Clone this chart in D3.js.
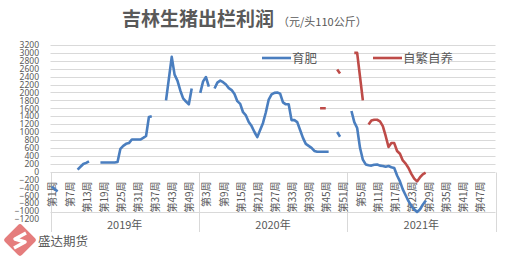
<!DOCTYPE html>
<html>
<head>
<meta charset="utf-8">
<script src="https://cdn.jsdelivr.net/npm/d3@7"></script>
<style>
  body { margin: 0; background: #fff; }
  svg text { font-family: "Noto Sans CJK SC", "Noto Sans", sans-serif; fill: #595959; }
</style>
</head>
<body>
<div class="chart"></div>
<script>
// data ------------------------------------------------------------
const years = ['2019年', '2020年', '2021年'];
const weeksPerYear = [52, 52, 52];
const yTicks = [-1200, -1000, -800, -600, -400, -200, 0, 200, 400, 600, 800, 1000, 1200,
  1400, 1600, 1800, 2000, 2200, 2400, 2600, 2800, 3000, 3200];
const seriesNames = ['育肥', '自繁自养'];

// 育肥 (per year, 52 weeks each, null = no data)
const fatten2019 = [-380, -450, -500, null, null, null, null, null, null, 50,
  120, 190, 220, 260, null, null, null, 230, 230, 230,
  230, 230, 230, 240, 575, 650, 700, 720, 810, 810,
  810, 810, 850, 900, 1380, 1400, null, null, null, null,
  1800, 2350, 2900, 2450, 2300, 2050, 1850, 1770, 1700, 2100,
  null, null];
const fatten2020 = [1990, 2280, 2390, 2150, null, 2100, 2250, 2300, 2260, 2200,
  2110, 2060, 1960, 1780, 1710, 1500, 1420, 1250, 1150, 1000,
  870, 1050, 1230, 1500, 1820, 1950, 1990, 2000, 1970, 1750,
  1700, 1700, 1300, 1300, 1250, 1050, 850, 700, 650, 600,
  520, 500, 500, 500, 500, 500, null, null, 1000, 880,
  null, null];
const fatten2021 = [null, 1530, 1250, 1100, 600, 300, 180, 160, 150, 170,
  180, 150, 140, 120, 140, 110, 90, -100, -250, -450,
  -600, -750, -870, -960, -1020, -960, -840, -740, null, null,
  null, null, null, null, null, null, null, null, null, null,
  null, null, null, null, null, null, null, null, null, null,
  null, null];

// 自繁自养
const selfBreed2019 = new Array(52).fill(null);
const selfBreed2020 = [null, null, null, null, null, null, null, null, null, null,
  null, null, null, null, null, null, null, null, null, null,
  null, null, null, null, null, null, null, null, null, null,
  null, null, null, null, null, null, null, null, null, null,
  null, null, 1600, 1600, 1600, null, null, null, 2580, 2480,
  null, null];
const selfBreed2021 = [null, null, 3000, 3000, 2400, 1800, null, 1190, 1290, 1310,
  1310, 1270, 1150, 900, 620, 720, 720, 520, 450, 280,
  200, 90, -60, -180, -250, -150, -70, -30, null, null,
  null, null, null, null, null, null, null, null, null, null,
  null, null, null, null, null, null, null, null, null, null,
  null, null];

const fatten = fatten2019.concat(fatten2020, fatten2021);
const selfBreed = selfBreed2019.concat(selfBreed2020, selfBreed2021);

// categories: one per week
const categories = [];
years.forEach((yr, yi) => {
  for (let w = 1; w <= weeksPerYear[yi]; w++) categories.push({ year: yi, week: w });
});

// chart -----------------------------------------------------------
const W = 513, H = 257;
const left = 50.5, right = 495.5;

const svg = d3.select('.chart').append('svg')
  .attr('width', W)
  .attr('height', H);

const x = d3.scaleBand()
  .domain(d3.range(categories.length))
  .range([left, right])
  .paddingInner(0);
const cx = i => x(i) + x.bandwidth() / 2;

const y = d3.scaleLinear()
  .domain([-1200, 3200])
  .range([219, 45]);

// grid lines (only positive part visible in original)
svg.selectAll('.grid-line')
  .data(yTicks.filter(v => v >= 0))
  .enter()
  .append('line')
  .attr('x1', left)
  .attr('x2', right)
  .attr('y1', d => Math.round(y(d)) + 0.5)
  .attr('y2', d => Math.round(y(d)) + 0.5)
  .attr('stroke', '#d9d9d9')
  .attr('stroke-width', 1);

// y axis - labels are packed tight like the original
svg.append('g')
  .attr('transform', 'translate(42,0)')
  .call(d3.axisLeft(y).tickValues(yTicks).tickSize(0).tickPadding(3).tickFormat(d3.format('d')))
  .call(g => g.select('.domain').remove())
  .selectAll('text')
  .style('font-family', '"Noto Sans", sans-serif')
  .style('font-size', '8.5px')
  .attr('fill', '#595959');

// category table lines
const y0 = Math.round(y(0)) + 0.5;
const rowSep = 212.5, tableBottom = 232;
svg.append('line')
  .attr('x1', left).attr('x2', right)
  .attr('y1', rowSep).attr('y2', rowSep)
  .attr('stroke', '#d9d9d9');
let start = 0;
const yearBounds = [left];
weeksPerYear.forEach(n => { start += n; yearBounds.push(start < categories.length ? x(start) : right); });
svg.selectAll('.year-sep')
  .data(yearBounds)
  .enter()
  .append('line')
  .attr('x1', d => Math.round(d) + 0.5)
  .attr('x2', d => Math.round(d) + 0.5)
  .attr('y1', y0)
  .attr('y2', tableBottom)
  .attr('stroke', '#d9d9d9');

// week labels, every 6th week
const tickIdx = d3.range(0, categories.length, 6);
svg.append('g')
  .attr('transform', `translate(0,${y0})`)
  .call(d3.axisBottom(x)
    .tickValues(tickIdx)
    .tickSize(0)
    .tickFormat(i => `第${categories[i].week}周`))
  .call(g => g.select('.domain').remove())
  .selectAll('text')
  .attr('transform', 'rotate(-90)')
  .attr('x', -9)
  .attr('y', 1)
  .attr('dy', '0.35em')
  .attr('text-anchor', 'end')
  .style('font-size', '10px')
  .attr('fill', '#595959');

// year labels
let acc = 0;
years.forEach((yr, yi) => {
  const a = x(acc);
  acc += weeksPerYear[yi];
  const b = acc < categories.length ? x(acc) : right;
  svg.append('text')
    .attr('x', (a + b) / 2)
    .attr('y', 229)
    .attr('text-anchor', 'middle')
    .style('font-size', '11px')
    .text(yr);
});

// lines
const line = d3.line()
  .defined(d => d.v != null)
  .x(d => cx(d.i))
  .y(d => y(d.v));
const colors = ['#4a7ebf', '#be4b48'];
[fatten, selfBreed].forEach((s, k) => {
  svg.append('path')
    .datum(s.map((v, i) => ({ i, v })))
    .attr('fill', 'none')
    .attr('stroke', colors[k])
    .attr('stroke-width', 2.6)
    .attr('stroke-linejoin', 'round')
    .attr('d', line);
});

// legend
const legendX = [262, 373];
seriesNames.forEach((name, k) => {
  svg.append('line')
    .attr('x1', legendX[k]).attr('x2', legendX[k] + 29)
    .attr('y1', 58).attr('y2', 58)
    .attr('stroke', colors[k])
    .attr('stroke-width', 2.6);
  svg.append('text')
    .attr('x', legendX[k] + 30)
    .attr('y', 62.5)
    .style('font-size', '12.5px')
    .text(name);
});

// title
svg.append('text')
  .attr('x', 122)
  .attr('y', 26)
  .style('font-size', '19px')
  .style('font-weight', 'bold')
  .attr('fill', '#595959')
  .text('吉林生猪出栏利润');
svg.append('text')
  .attr('x', 278)
  .attr('y', 26)
  .style('font-size', '11px')
  .text('（元/头110公斤）');

// watermark logo
const logo = svg.append('g').attr('transform', 'translate(20,240)');
logo.append('rect')
  .attr('x', -12).attr('y', -12)
  .attr('width', 24).attr('height', 24)
  .attr('rx', 3)
  .attr('transform', 'rotate(45)')
  .attr('fill', '#e06666')
  .attr('opacity', 0.85);
logo.append('path')
  .attr('d', 'M6,-7 L-5,-1 L5,2 L-6,8')
  .attr('fill', 'none')
  .attr('stroke', '#fff')
  .attr('stroke-width', 3.5)
  .attr('stroke-linejoin', 'round');
svg.append('text')
  .attr('x', 38)
  .attr('y', 246)
  .style('font-size', '12.5px')
  .attr('fill', '#bdbdbd')
  .text('盛达期货');
</script>
</body>
</html>
